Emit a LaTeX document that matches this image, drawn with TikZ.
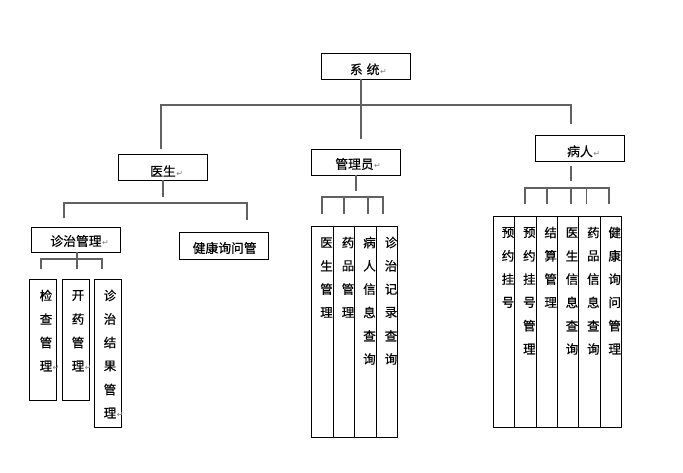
\documentclass[tikz,border=0pt]{standalone}
\usepackage{fontspec}
\newfontfamily\cjk{Noto Sans CJK SC}[FakeBold=0.5]
\newfontfamily\dvs{DejaVu Sans}
\newcommand{\retmark}{\rlap{\kern0.5pt\dvs\fontsize{8}{8}\selectfont\color{black!50}↵}}
\newcommand{\vtext}[4]{%
  \foreach \c [count=\i] in {#3} {\node[ch] (#1c\i) at ([xshift=#2pt, yshift={-(16.5+(\i-1)*#4)*1pt}]#1.north west) {\c};}}
\tikzset{
  hbox/.style={draw=black, line width=0.9pt, minimum width=89pt, minimum height=26pt, inner sep=0pt},
  htext/.style={inner sep=0pt, font=\cjk\fontsize{12.8}{12.8}\selectfont},
  col/.style={draw=black, line width=0.9pt, anchor=north west, inner sep=0pt},
  ch/.style={inner sep=0pt, font=\cjk\fontsize{12.5}{12.5}\selectfont},
  conn/.style={draw=black!62, line width=1.2pt}
}
\begin{document}
\begin{tikzpicture}[x=1pt,y=-1pt]
\useasboundingbox (0,0) rectangle (683,472);
\fill[white] (0,0) rectangle (683,472);

% ---------- header boxes ----------
\node[hbox] (sys) at (365.5,66) {};
\node[htext] (syst) at (364.7,69.3) {系\hspace{4pt}统\retmark};
\node[hbox] (doc) at (163,167) {};
\node[htext] (doct) at (163,171) {医生\retmark};
\node[hbox] (adm) at (355.5,162) {};
\node[htext] (admt) at (354.5,164) {管理员\retmark};
\node[hbox] (pat) at (580,148) {};
\node[htext] (patt) at (580,151.3) {病人\retmark};
\node[hbox, minimum height=25pt] (zz) at (76,239.5) {};
\node[htext] (zzt) at (76,241) {诊治管理\retmark};
\node[hbox, minimum height=27pt] (hq) at (224,245.5) {};
\node[htext] (hqt) at (224.7,248) {健康询问管};

% ---------- connectors ----------
\coordinate (jS) at (361,105);
\coordinate (aTop) at (361,139);
\coordinate (dTop) at (161,149);
\coordinate (pTop) at (571,124);
\draw[conn] (sys.south -| jS) -- (aTop);
\draw[conn] (dTop) |- (jS) -| (pTop);

% doctor
\coordinate (dStem) at (163,197);
\coordinate (jD) at (163,203);
\coordinate (zTop) at (64,218);
\coordinate (hTop) at (247,220);
\draw[conn] (doc.south) -- (dStem);
\draw[conn] (zTop) |- (jD) -| (hTop);

% diagnosis management
\coordinate (jZ) at (77,259);
\coordinate (z1) at (41,269);
\coordinate (z2) at (77,269);
\coordinate (z3) at (102,269);
\draw[conn] (zz.south -| jZ) -- (z2);
\draw[conn] (z1) |- (jZ) -| (z3);

% admin
\coordinate (aStem) at (356,191);
\coordinate (jA) at (356,197);
\coordinate (a1) at (322,214);
\coordinate (a2) at (344,214);
\coordinate (a3) at (368,214);
\coordinate (a4) at (383,214);
\draw[conn] (adm.south -| aStem) -- (aStem);
\draw[conn] (a1) |- (jA) -| (a4);
\draw[conn] (a2 |- jA) -- (a2);
\draw[conn] (a3 |- jA) -- (a3);

% patient
\coordinate (pS0) at (571,166);
\coordinate (pStem) at (571,181);
\coordinate (jP) at (571,188);
\coordinate (b1) at (525,204);
\coordinate (b2) at (547,204);
\coordinate (b3) at (571,204);
\coordinate (b4) at (586.5,204);
\coordinate (b5) at (609,204);
\draw[conn] (pS0) -- (pStem);
\draw[conn] (b1) |- (jP) -| (b5);
\draw[conn] (b2 |- jP) -- (b2);
\draw[conn] (b3 |- jP) -- (b3);
\draw[conn] (b4 |- jP) -- (b4);

% ---------- columns: diagnosis ----------
\node[col, minimum width=27pt, minimum height=121pt] (k1) at (29,279) {};
\node[col, minimum width=27pt, minimum height=121pt] (k2) at (62,279) {};
\node[col, minimum width=27pt, minimum height=148pt] (k3) at (94,279) {};
\vtext{k1}{17}{检,查,管,理\retmark}{23.5}
\vtext{k2}{16}{开,药,管,理\retmark}{23.5}
\vtext{k3}{16}{诊,治,结,果,管,理\retmark}{23.5}

% ---------- columns: admin ----------
\node[col, minimum width=21.5pt, minimum height=211pt] (m1) at (311,226) {};
\node[col, minimum width=21.5pt, minimum height=211pt] (m2) at (332.5,226) {};
\node[col, minimum width=21.5pt, minimum height=211pt] (m3) at (354,226) {};
\node[col, minimum width=21.5pt, minimum height=211pt] (m4) at (375.5,226) {};
\vtext{m1}{15.5}{医,生,管,理}{23.3}
\vtext{m2}{15.5}{药,品,管,理}{23.3}
\vtext{m3}{15.5}{病,人,信,息,查,询}{23.3}
\vtext{m4}{15.5}{诊,治,记,录,查,询}{23.3}

% ---------- columns: patient ----------
\node[col, minimum width=21.33pt, minimum height=211pt] (p1) at (493,216) {};
\node[col, minimum width=21.33pt, minimum height=211pt] (p2) at (514.33,216) {};
\node[col, minimum width=21.33pt, minimum height=211pt] (p3) at (535.67,216) {};
\node[col, minimum width=21.33pt, minimum height=211pt] (p4) at (557,216) {};
\node[col, minimum width=21.33pt, minimum height=211pt] (p5) at (578.33,216) {};
\node[col, minimum width=21.33pt, minimum height=211pt] (p6) at (599.67,216) {};
\vtext{p1}{15}{预,约,挂,号}{23.3}
\vtext{p2}{15}{预,约,挂,号,管,理}{23.3}
\vtext{p3}{15}{结,算,管,理}{23.3}
\vtext{p4}{15}{医,生,信,息,查,询}{23.3}
\vtext{p5}{15}{药,品,信,息,查,询}{23.3}
\vtext{p6}{15}{健,康,询,问,管,理}{23.3}
\end{tikzpicture}
\end{document}
